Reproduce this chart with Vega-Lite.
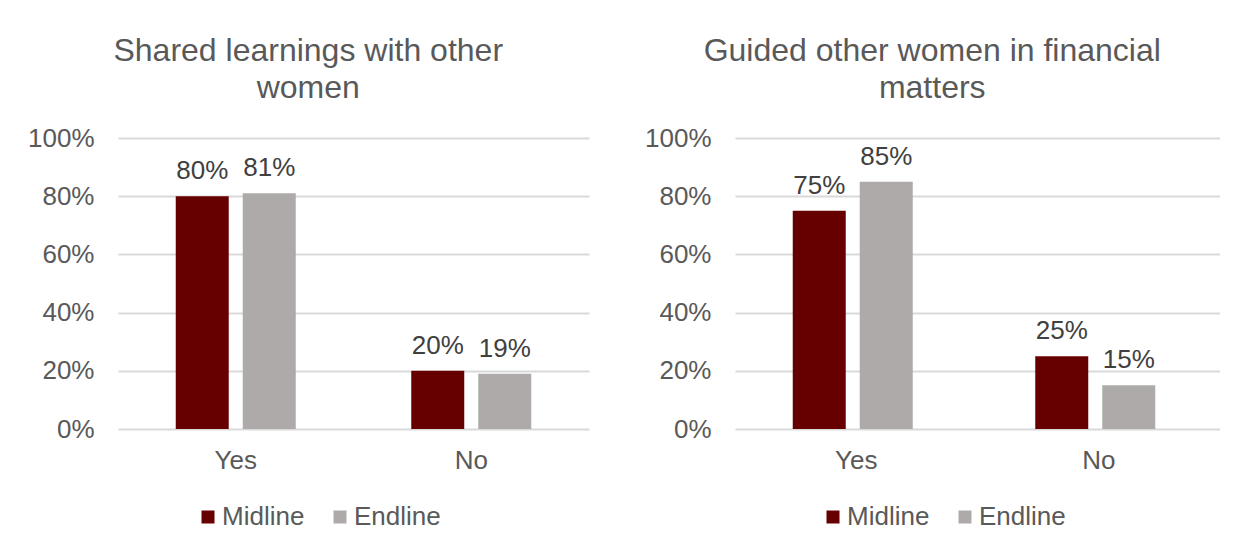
{
  "$schema": "https://vega.github.io/schema/vega-lite/v6.json",
  "background": "white",
  "padding": {"left": 27, "top": 35, "right": 0, "bottom": 0},
  "spacing": 55,
  "config": {
    "font": "Liberation Sans",
    "view": {"stroke": null},
    "title": {"fontSize": 32, "fontWeight": "normal", "color": "#595959", "lineHeight": 37, "anchor": "middle", "frame": "bounds", "offset": 20, "font": "Liberation Sans"},
    "axis": {"labelFont": "Liberation Sans", "labelFontSize": 26, "labelColor": "#595959", "domain": false, "ticks": false, "title": null},
    "legend": {"labelFont": "Liberation Sans"}
  },
  "resolve": {"scale": {"color": "independent"}, "legend": {"color": "independent"}},
  "hconcat": [
    {
      "width": 471,
      "height": 291,
      "title": {"text": ["Shared learnings with other", "women"]},
      "data": {"values": [
        {"answer": "Yes", "round": "Midline", "pct": 0.80},
        {"answer": "Yes", "round": "Endline", "pct": 0.81},
        {"answer": "No", "round": "Midline", "pct": 0.20},
        {"answer": "No", "round": "Endline", "pct": 0.19}
      ]},
      "encoding": {
        "x": {"field": "answer", "type": "nominal", "sort": ["Yes", "No"], "scale": {"padding": 0}, "axis": {"labelAngle": 0, "grid": false, "labelPadding": 18}},
        "xOffset": {"field": "round", "type": "nominal", "sort": ["Midline", "Endline"], "scale": {"paddingInner": 0.209, "paddingOuter": 0.862}},
        "y": {"field": "pct", "type": "quantitative", "scale": {"domain": [0, 1]}, "axis": {"format": ".0%", "values": [0, 0.2, 0.4, 0.6, 0.8, 1], "grid": true, "gridColor": "#d9d9d9", "gridWidth": 2, "labelPadding": 24}}
      },
      "layer": [
        {
          "mark": {"type": "bar"},
          "encoding": {
            "color": {"field": "round", "type": "nominal", "sort": ["Midline", "Endline"], "scale": {"domain": ["Midline", "Endline"], "range": ["#660000", "#AEAAAA"]},
              "legend": {"orient": "none", "legendX": 77, "legendY": 366, "direction": "horizontal", "title": null, "symbolType": "square", "symbolSize": 169, "symbolStrokeWidth": 0, "labelFontSize": 26, "labelColor": "#595959", "columnPadding": 22, "labelOffset": 1}}
          }
        },
        {
          "mark": {"type": "text", "baseline": "alphabetic", "dy": -17, "fontSize": 26, "color": "#404040", "font": "Liberation Sans"},
          "encoding": {"text": {"field": "pct", "type": "quantitative", "format": ".0%"}}
        }
      ]
    },
    {
      "width": 485,
      "height": 291,
      "title": {"text": ["Guided other women in financial", "matters"]},
      "data": {"values": [
        {"answer": "Yes", "round": "Midline", "pct": 0.75},
        {"answer": "Yes", "round": "Endline", "pct": 0.85},
        {"answer": "No", "round": "Midline", "pct": 0.25},
        {"answer": "No", "round": "Endline", "pct": 0.15}
      ]},
      "encoding": {
        "x": {"field": "answer", "type": "nominal", "sort": ["Yes", "No"], "scale": {"padding": 0}, "axis": {"labelAngle": 0, "grid": false, "labelPadding": 18}},
        "xOffset": {"field": "round", "type": "nominal", "sort": ["Midline", "Endline"], "scale": {"paddingInner": 0.2, "paddingOuter": 0.857}},
        "y": {"field": "pct", "type": "quantitative", "scale": {"domain": [0, 1]}, "axis": {"format": ".0%", "values": [0, 0.2, 0.4, 0.6, 0.8, 1], "grid": true, "gridColor": "#d9d9d9", "gridWidth": 2, "labelPadding": 24}}
      },
      "layer": [
        {
          "mark": {"type": "bar"},
          "encoding": {
            "color": {"field": "round", "type": "nominal", "sort": ["Midline", "Endline"], "scale": {"domain": ["Midline", "Endline"], "range": ["#660000", "#AEAAAA"]},
              "legend": {"orient": "none", "legendX": 85, "legendY": 366, "direction": "horizontal", "title": null, "symbolType": "square", "symbolSize": 169, "symbolStrokeWidth": 0, "labelFontSize": 26, "labelColor": "#595959", "columnPadding": 22, "labelOffset": 1}}
          }
        },
        {
          "mark": {"type": "text", "baseline": "alphabetic", "dy": -17, "fontSize": 26, "color": "#404040", "font": "Liberation Sans"},
          "encoding": {"text": {"field": "pct", "type": "quantitative", "format": ".0%"}}
        }
      ]
    }
  ]
}
